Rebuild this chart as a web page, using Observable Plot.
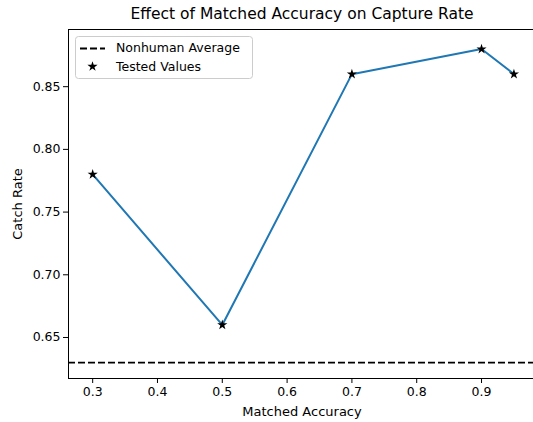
<!DOCTYPE html>
<html><head><meta charset="utf-8">
<script src="https://cdn.jsdelivr.net/npm/d3@7"></script>
<script src="https://cdn.jsdelivr.net/npm/@observablehq/plot@0.6"></script>
<style>
body{margin:0;background:#fff;overflow:hidden}
#wrap{position:relative;width:533px;height:422px;font-family:"DejaVu Sans";color:#000;overflow:hidden}
#wrap svg{position:absolute;left:0;top:0}
.t{position:absolute;white-space:nowrap;line-height:1}
</style></head><body>
<div id="wrap"></div>
<script>
const accuracy = [0.3, 0.5, 0.7, 0.9, 0.95];
const catchRate = [0.78, 0.66, 0.86, 0.88, 0.86];
const nonhumanAverage = 0.63;
const xTicks = [0.3, 0.4, 0.5, 0.6, 0.7, 0.8, 0.9];
const yTicks = [0.65, 0.70, 0.75, 0.80, 0.85];
const titleText = "Effect of Matched Accuracy on Capture Rate";
const xLabel = "Matched Accuracy";
const yLabel = "Catch Rate";
const legendLabels = ["Nonhuman Average", "Tested Values"];

const xDomain = [0.2627, 0.9802];
const yDomain = [0.6173, 0.8956];
const data = accuracy.map((x, i) => ({x, y: catchRate[i]}));

const plot = Plot.plot({
  width: 533, height: 422,
  marginLeft: 68, marginRight: 0, marginTop: 29, marginBottom: 44,
  style: {fontFamily: "DejaVu Sans", fontSize: "12.5px", color: "#000", background: "transparent"},
  x: {domain: xDomain},
  y: {domain: yDomain},
  marks: [
    Plot.ruleY([nonhumanAverage], {stroke: "#000", strokeWidth: 1.8, strokeDasharray: "7,3"}),
    Plot.line(data, {x: "x", y: "y", stroke: "#1f77b4", strokeWidth: 2}),
    Plot.dot(data, {x: "x", y: "y", symbol: "star", fill: "#000", stroke: "none", r: 3.2}),
    Plot.ruleX([xDomain[0]], {stroke: "#000", strokeWidth: 1}),
    Plot.ruleY([yDomain[0], yDomain[1]], {stroke: "#000", strokeWidth: 1}),
    Plot.axisX(xTicks, {tickFormat: d3.format(".1f"), tickSize: 5, tickPadding: 4, label: null, stroke: "#000", fill: "#000"}),
    Plot.axisY(yTicks, {tickFormat: d3.format(".2f"), tickSize: 5, tickPadding: 3, label: null, stroke: "#000", fill: "#000"})
  ]
});
const wrap = document.getElementById("wrap");
wrap.appendChild(plot);

// legend inside the svg
const svg = d3.select(plot);
const lg = svg.append("g").attr("font-family", "DejaVu Sans").attr("font-size", "12.5px").attr("text-anchor", "start");
lg.append("rect").attr("x", 75.5).attr("y", 36.5).attr("width", 177).attr("height", 42)
  .attr("rx", 3).attr("fill", "#fff").attr("fill-opacity", 0.85).attr("stroke", "#ccc");
lg.append("line").attr("x1", 80).attr("x2", 105).attr("y1", 48.5).attr("y2", 48.5)
  .attr("stroke", "#000").attr("stroke-width", 1.8).attr("stroke-dasharray", "7,3");
lg.append("path").attr("d", d3.symbol(d3.symbolStar, Math.PI * 3.2 * 3.2)()).attr("transform", "translate(92.5,66.5)").attr("fill", "#000");
legendLabels.forEach((s, i) => {
  lg.append("text").attr("x", 116).attr("y", 48 + i * 18.5).attr("dy", "0.35em").attr("fill", "#000").text(s);
});

function addText(txt, css) {
  const d = document.createElement("div");
  d.className = "t";
  d.textContent = txt;
  Object.assign(d.style, css);
  wrap.appendChild(d);
  return d;
}
addText(titleText, {left: "302px", top: "15px", fontSize: "15.5px", transform: "translate(-50%,-50%)"});
addText(xLabel, {left: "302px", top: "411px", fontSize: "13px", transform: "translate(-50%,-50%)"});
addText(yLabel, {left: "16.5px", top: "204px", fontSize: "13px", transform: "translate(-50%,-50%) rotate(-90deg)"});
</script>
</body></html>
